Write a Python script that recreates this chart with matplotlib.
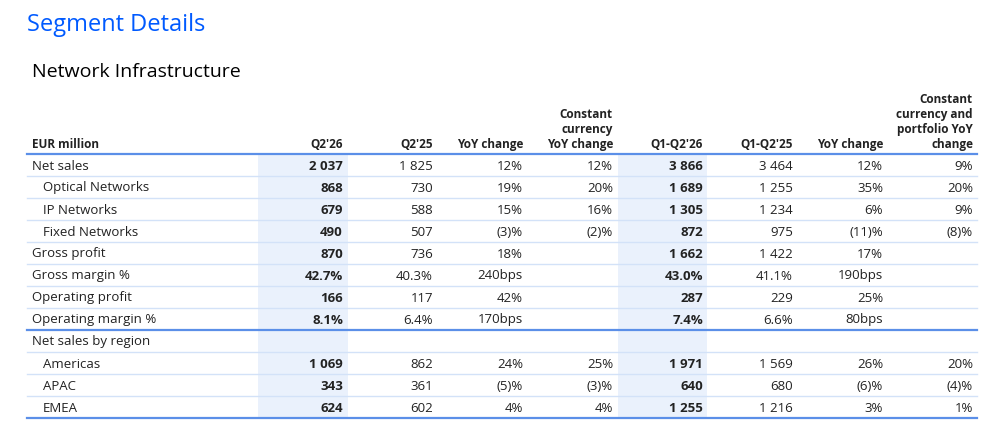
import matplotlib
matplotlib.use("Agg")
import matplotlib.pyplot as plt
from matplotlib.patches import Rectangle

plt.rcParams['font.family'] = ['Open Sans', 'DejaVu Sans']

# table content
headers = ["EUR million", "Q2'26", "Q2'25", "YoY change", "Constant\ncurrency\nYoY change",
           "Q1-Q2'26", "Q1-Q2'25", "YoY change", "Constant\ncurrency and\nportfolio YoY\nchange"]
row_labels = ["Net sales", "Optical Networks", "IP Networks", "Fixed Networks", "Gross profit",
              "Gross margin %", "Operating profit", "Operating margin %", "Net sales by region",
              "Americas", "APAC", "EMEA"]
indented = [False, True, True, True, False, False, False, False, False, True, True, True]
q2_26 = ["2 037", "868", "679", "490", "870", "42.7%", "166", "8.1%", "", "1 069", "343", "624"]
q2_25 = ["1 825", "730", "588", "507", "736", "40.3%", "117", "6.4%", "", "862", "361", "602"]
yoy_q = ["12%", "19%", "15%", "(3)%", "18%", "240bps", "42%", "170bps", "", "24%", "(5)%", "4%"]
cc_q = ["12%", "20%", "16%", "(2)%", "", "", "", "", "", "25%", "(3)%", "4%"]
h1_26 = ["3 866", "1 689", "1 305", "872", "1 662", "43.0%", "287", "7.4%", "", "1 971", "640", "1 255"]
h1_25 = ["3 464", "1 255", "1 234", "975", "1 422", "41.1%", "229", "6.6%", "", "1 569", "680", "1 216"]
yoy_h = ["12%", "35%", "6%", "(11)%", "17%", "190bps", "25%", "80bps", "", "26%", "(6)%", "3%"]
ccp_h = ["9%", "20%", "9%", "(8)%", "", "", "", "", "", "20%", "(4)%", "1%"]

columns = [q2_26, q2_25, yoy_q, cc_q, h1_26, h1_25, yoy_h, ccp_h]
bold_cols = [True, False, False, False, True, False, False, False]
col_right = [343, 433, 523, 613, 703, 793, 883, 973]
shade_cols = [(258, 348), (618, 707)]

blue = "#005aff"
line_blue = "#5b8fe8"
thin_blue = "#d3e2f8"
shade = "#eaf1fc"
text_col = "#222222"

fig = plt.figure(figsize=(10, 4.3), dpi=100)
ax = fig.add_axes([0, 0, 1, 1])
ax.set_xlim(0, 1000)
ax.set_ylim(430, 0)
ax.axis("off")

ax.text(27, 25, "Segment Details", color=blue, fontsize=17, va="center", ha="left")
ax.text(32, 72, "Network Infrastructure", color="black", fontsize=14, va="center", ha="left")

top = 154
row_h = 22
n = len(row_labels)
bottom = top + n * row_h

for x0, x1 in shade_cols:
    ax.add_patch(Rectangle((x0, top), x1 - x0, bottom - top, color=shade, lw=0, zorder=0))

# headers
ax.text(32, 148, headers[0], fontsize=8.5, fontweight="bold", ha="left", va="baseline", color=text_col)
for h, xr in zip(headers[1:], col_right):
    ax.text(xr, 148, h, fontsize=8.5, fontweight="bold", ha="right", va="baseline",
            color=text_col, linespacing=1.2, multialignment="right")

# row separators
for i in range(1, n):
    y = top + i * row_h
    if row_labels[i - 1] == "Operating margin %":
        ax.plot([27, 977], [y, y], color=line_blue, lw=1.6, zorder=2)
    else:
        ax.plot([27, 977], [y, y], color=thin_blue, lw=1.0, zorder=1)
ax.plot([27, 977], [top, top], color=line_blue, lw=1.6, zorder=2)
ax.plot([27, 977], [bottom, bottom], color=line_blue, lw=1.6, zorder=2)

for i, label in enumerate(row_labels):
    yc = top + i * row_h + row_h / 2 + 1
    ax.text(43 if indented[i] else 32, yc, label, fontsize=9.5, ha="left", va="center", color=text_col)
    for col, xr, b in zip(columns, col_right, bold_cols):
        ax.text(xr, yc, col[i], fontsize=9.5, ha="right", va="center", color=text_col,
                fontweight="bold" if b else "normal")

fig.savefig("out.png", dpi=100)
